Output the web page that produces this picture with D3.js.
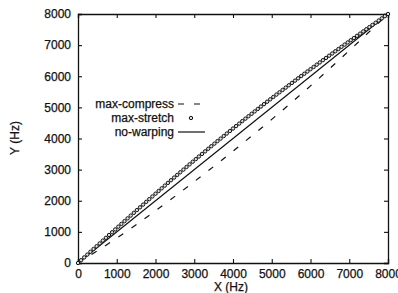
<!DOCTYPE html>
<html><head><meta charset="utf-8">
<script src="https://cdn.jsdelivr.net/npm/d3@7"></script>
<style>
html,body{margin:0;padding:0;background:#fff;}
text{font-family:"Liberation Sans",Arial,Helvetica,sans-serif;fill:#111;stroke:#111;stroke-width:0.25px;}
</style></head>
<body><svg id="c" width="398" height="293"></svg>
<script>
const xTicks = [0,1000,2000,3000,4000,5000,6000,7000,8000];
const yTicks = [0,1000,2000,3000,4000,5000,6000,7000,8000];
const noWarpX = [0, 8000];
const noWarpY = [0, 8000];
const compressX = [0,500,1000,1500,2000,2500,3000,3500,4000,4500,5000,5500,6000,6500,7000,7500,8000];
const compressY = [0,390,800,1230,1680,2140,2615,3100,3595,4100,4615,5145,5690,6250,6825,7410,8000];
const stretchX = [0,80,160,240,320,400,480,560,640,720,800,880,960,1040,1120,1200,1280,1360,1440,1520,
1600,1680,1760,1840,1920,2000,2080,2160,2240,2320,2400,2480,2560,2640,2720,2800,2880,2960,3040,3120,
3200,3280,3360,3440,3520,3600,3680,3760,3840,3920,4000,4080,4160,4240,4320,4400,4480,4560,4640,4720,
4800,4880,4960,5040,5120,5200,5280,5360,5440,5520,5600,5680,5760,5840,5920,6000,6080,6160,6240,6320,
6400,6480,6560,6640,6720,6800,6880,6960,7040,7120,7200,7280,7360,7440,7520,7600,7680,7760,7840,7920,8000];
const stretchY = [0,90,180,270,360,450,540,630,720,809,899,988,1078,1167,1256,1345,1434,1523,1611,1700,
1788,1876,1964,2052,2139,2226,2313,2400,2487,2573,2659,2745,2830,2915,3000,3085,3170,3254,3338,3421,
3504,3587,3670,3752,3834,3916,3997,4079,4159,4240,4320,4400,4479,4559,4637,4716,4794,4872,4950,5027,
5104,5181,5258,5334,5410,5485,5560,5635,5710,5785,5859,5933,6007,6080,6153,6226,6299,6372,6444,6516,
6588,6660,6731,6803,6874,6945,7016,7087,7158,7228,7299,7369,7440,7510,7580,7650,7720,7790,7860,7930,8000];
const legendLabels = ["max-compress","max-stretch","no-warping"];

const svg = d3.select("#c");
const L=78, T=14, W=310, H=249;
const x = d3.scaleLinear().domain([0,8000]).range([L, L+W]);
const y = d3.scaleLinear().domain([0,8000]).range([T+H, T]);
const tk = 4;

const axB = svg.append("g").attr("transform",`translate(0,${T+H})`)
  .call(d3.axisBottom(x).tickValues(xTicks).tickSize(-tk).tickPadding(6).tickFormat(d3.format("d")));
const axL = svg.append("g").attr("transform",`translate(${L},0)`)
  .call(d3.axisLeft(y).tickValues(yTicks).tickSize(-tk).tickPadding(7).tickFormat(d3.format("d")));
const axT = svg.append("g").attr("transform",`translate(0,${T})`)
  .call(d3.axisTop(x).tickValues(xTicks).tickSize(-tk).tickFormat(""));
const axR = svg.append("g").attr("transform",`translate(${L+W},0)`)
  .call(d3.axisRight(y).tickValues(yTicks).tickSize(-tk).tickFormat(""));
[axB,axL,axT,axR].forEach(g=>{
  g.selectAll("path").attr("stroke","#111").attr("stroke-width",1.3);
  g.selectAll("line").attr("stroke","#111").attr("stroke-width",1.1);
  g.selectAll("text").attr("font-size",12).attr("fill","#111")
   .attr("font-family","'Liberation Sans',Arial,sans-serif");
});

const line = d3.line().x(d=>x(d[0])).y(d=>y(d[1]));
svg.append("path").datum(noWarpX.map((v,i)=>[v,noWarpY[i]]))
  .attr("d",line).attr("fill","none").attr("stroke","#111").attr("stroke-width",1.2);
svg.append("path").datum(compressX.map((v,i)=>[v,compressY[i]]))
  .attr("d",d3.line().curve(d3.curveMonotoneX).x(d=>x(d[0])).y(d=>y(d[1])))
  .attr("fill","none").attr("stroke","#111").attr("stroke-width",1.2).attr("stroke-dasharray","6,10");
svg.append("g").selectAll("circle").data(stretchX.map((v,i)=>[v,stretchY[i]])).join("circle")
  .attr("cx",d=>x(d[0])).attr("cy",d=>y(d[1])).attr("r",1.7)
  .attr("fill","#ddd").attr("stroke","#111").attr("stroke-width",1);

// legend
const lg = svg.append("g");
const ly = [104,118,132];
legendLabels.forEach((t,i)=>{
  lg.append("text").attr("x",174).attr("y",ly[i]).attr("dy","0.35em")
    .attr("text-anchor","end").attr("font-size",12).text(t);
});
lg.append("line").attr("x1",178).attr("x2",205).attr("y1",ly[0]).attr("y2",ly[0])
  .attr("stroke","#111").attr("stroke-width",1.2).attr("stroke-dasharray","6,10");
lg.append("circle").attr("cx",191).attr("cy",ly[1]).attr("r",1.7)
  .attr("fill","#ddd").attr("stroke","#111").attr("stroke-width",1);
lg.append("line").attr("x1",178).attr("x2",205).attr("y1",ly[2]).attr("y2",ly[2])
  .attr("stroke","#111").attr("stroke-width",1.2);

svg.append("text").attr("x",231).attr("y",287).attr("dy","0.35em")
  .attr("text-anchor","middle").attr("font-size",12).text("X (Hz)");
svg.append("text").attr("transform","translate(15,138) rotate(-90)").attr("dy","0.35em")
  .attr("text-anchor","middle").attr("font-size",12).text("Y (Hz)");
</script></body></html>
